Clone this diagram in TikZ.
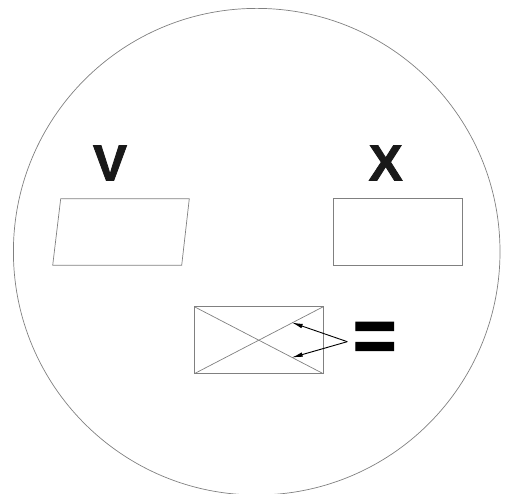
\documentclass[tikz,border=0pt]{standalone}
\usepackage{fontspec}
\setmainfont{Liberation Sans}
\newfontfamily\heavyfont[FakeBold=1.6]{Liberation Sans Bold}
\usetikzlibrary{arrows.meta}
\begin{document}
\begin{tikzpicture}[x=1pt,y=1pt,
  outline/.style={draw=gray, line width=0.7pt},
  pointer/.style={-{Latex[length=11pt,width=4.5pt]}, line width=0.9pt},
  letter/.style={inner sep=0pt, font=\fontsize{51}{51}\selectfont\heavyfont, text=black!90}]
\useasboundingbox (0,0) rectangle (507,494);
\draw[outline] (256.7,242.3) circle (243.3);
\node[letter] (v) at (110,331) {V};
\node[letter] (x) at (385.7,331) {X};
\draw[outline] (60.7,295.3) -- (189.3,295.3) -- (181.7,228.7) -- (52.7,228.7) -- cycle;
\draw[outline] (333.3,228.7) rectangle (462.3,295.3);
\draw[outline] (194.3,120.3) rectangle (323.3,187.3);
\draw[outline] (194.3,120.3) -- (323.3,187.3);
\draw[outline] (194.3,187.3) -- (323.3,120.3);
\coordinate (apex) at (347.3,152.3);
\coordinate (up) at (291.7,171.5);
\coordinate (down) at (291.7,136.4);
\draw[pointer] (apex) -- (up);
\draw[pointer] (apex) -- (down);
\node[inner sep=0pt, font=\fontsize{75}{75}\selectfont\heavyfont] (eq) at (374.7,152.2) {=};
\end{tikzpicture}
\end{document}
